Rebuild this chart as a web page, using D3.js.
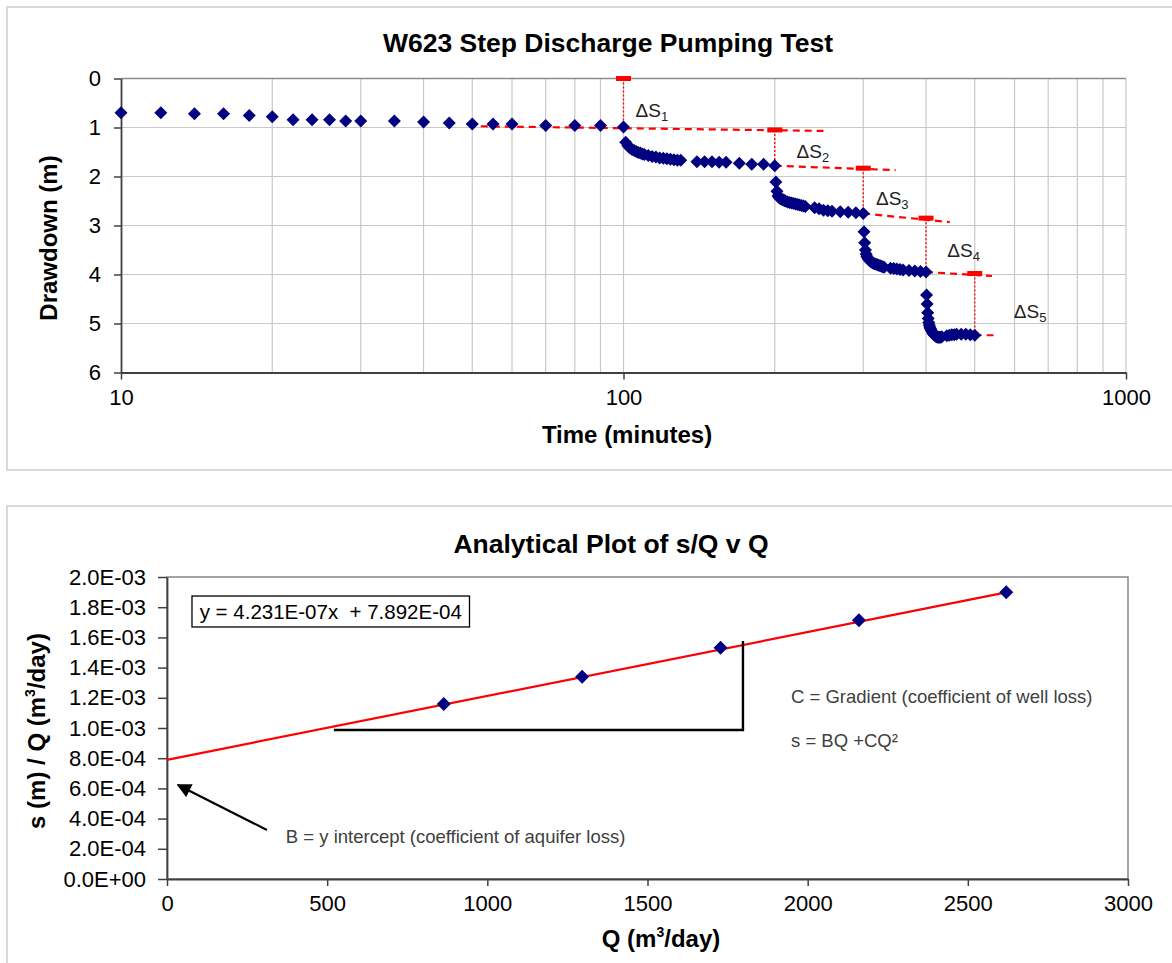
<!DOCTYPE html>
<html><head><meta charset="utf-8">
<script src="https://cdn.jsdelivr.net/npm/d3@7"></script>
<style>
body{margin:0;background:#fff}
text{font-family:"Liberation Sans",Arial,sans-serif}
</style>
</head><body>
<svg id="c" width="1172" height="963"></svg>
<script>
// ---------------- Top chart data (time in minutes, drawdown in m) ----------------
const step1Time = [10,12,14,16,18,20,22,24,26,28,30,35,40,45,50,55,60,70,80,90,100];
const step1Draw = [0.70,0.70,0.72,0.72,0.755,0.78,0.84,0.84,0.84,0.865,0.865,0.865,0.89,0.91,0.93,0.93,0.93,0.96,0.96,0.96,0.99];

const step2Time = [101,102,103,104,105,106,107,108,109,110,112,114,116,118,120,122,124,126,128,130,140,145,150,155,160,170,180,190,200];
const step2Draw = [1.30,1.37,1.42,1.45,1.47,1.49,1.51,1.52,1.54,1.55,1.57,1.59,1.60,1.62,1.63,1.64,1.65,1.66,1.67,1.67,1.70,1.70,1.70,1.71,1.71,1.73,1.75,1.75,1.78];

const step3Time = [201,202,203,204,205,206,207,208,209,210,212,214,216,218,220,222,224,226,228,230,240,245,250,255,260,270,280,290,300];
const step3Draw = [2.11,2.30,2.40,2.43,2.45,2.46,2.47,2.48,2.49,2.50,2.52,2.53,2.54,2.55,2.56,2.57,2.58,2.59,2.60,2.61,2.64,2.66,2.69,2.70,2.71,2.72,2.73,2.74,2.755];

const step4Time = [301,302,303,304,305,306,307,308,309,310,312,314,316,318,320,322,324,326,328,330,340,345,350,355,360,370,380,390,400];
const step4Draw = [3.13,3.35,3.50,3.58,3.63,3.66,3.68,3.70,3.72,3.73,3.75,3.77,3.78,3.79,3.80,3.81,3.82,3.83,3.84,3.85,3.87,3.88,3.89,3.90,3.91,3.92,3.93,3.94,3.95];

const step5Time = [401,402,403,404,405,406,407,408,409,410,412,414,416,418,420,422,424,426,428,430,440,445,450,455,460,470,480,490,500];
const step5Draw = [4.42,4.60,4.78,4.90,4.98,5.03,5.07,5.10,5.13,5.15,5.19,5.22,5.24,5.26,5.27,5.28,5.28,5.28,5.28,5.27,5.25,5.24,5.23,5.23,5.22,5.22,5.22,5.23,5.24];

// Step construction annotations
const markTime = [100,200,300,400,500];
const markDraw = [0,1.05,1.83,2.85,3.98];
const stepEndDraw = [0.99,1.78,2.755,3.95,5.24];
const extT0 = [52,200,300,400,500];
const extS0 = [0.975,1.78,2.755,3.95,5.24];
const extT1 = [250,348,446,541,545];
const extS1 = [1.07,1.87,2.93,4.03,5.24];
const dsLabelT = [105.7,221,318,441,598];
const dsLabelS = [0.78,1.63,2.59,3.64,4.89];
const dsSub = ["1","2","3","4","5"];

const topYTicks = [0,1,2,3,4,5,6];
const topYLabels = ["0","1","2","3","4","5","6"];
const topXTicks = [10,100,1000];
const topXLabels = ["10","100","1000"];
const topGridT = [20,30,40,50,60,70,80,90,100,200,300,400,500,600,700,800,900,1000];

// ---------------- Bottom chart data ----------------
const Qvals = [864,1296,1728,2160,2620];
const sQvals = [1.159e-3,1.340e-3,1.532e-3,1.713e-3,1.899e-3];
const trendSlope = 4.231e-7, trendIntercept = 7.892e-4;
const trendQ = [0,2620];
const botYTicks = [0,0.0002,0.0004,0.0006,0.0008,0.001,0.0012,0.0014,0.0016,0.0018,0.002];
const botYLabels = ["0.0E+00","2.0E-04","4.0E-04","6.0E-04","8.0E-04","1.0E-03","1.2E-03","1.4E-03","1.6E-03","1.8E-03","2.0E-03"];
const botXTicks = [0,500,1000,1500,2000,2500,3000];
const botXLabels = ["0","500","1000","1500","2000","2500","3000"];
const gradLineQ = [521,1798,1798];
const gradLineS = [0.987e-3,0.987e-3,1.576e-3];
const arrowFrom = [312,0.325e-3], arrowTo = [34,0.623e-3];

// ---------------- drawing ----------------
const svg = d3.select("#c");
svg.append("rect").attr("width",1172).attr("height",963).attr("fill","#fff");
svg.append("rect").attr("x",7).attr("y",7).attr("width",1200).attr("height",463)
  .attr("fill","none").attr("stroke","#d9d9d9").attr("stroke-width",2);
svg.append("rect").attr("x",7).attr("y",506).attr("width",1200).attr("height",500)
  .attr("fill","none").attr("stroke","#d9d9d9").attr("stroke-width",2);

const diamond = r => `M0,${-r}L${r},0L0,${r}L${-r},0Z`;

// ===== Top chart =====
const x = d3.scaleLog().domain([10,1000]).range([121,1126]);
const y = d3.scaleLinear().domain([0,6]).range([78.5,372.5]);
const g = svg.append("g");

g.selectAll(".vg").data(topGridT).join("line")
  .attr("x1",d=>x(d)).attr("x2",d=>x(d)).attr("y1",y(0)).attr("y2",y(6))
  .attr("stroke","#c8c8c8").attr("stroke-width",1.2);
g.selectAll(".hg").data([1,2,3,4,5]).join("line")
  .attr("x1",x(10)).attr("x2",x(1000)).attr("y1",d=>y(d)).attr("y2",d=>y(d))
  .attr("stroke","#c8c8c8").attr("stroke-width",1.2);
g.append("line").attr("x1",x(10)).attr("x2",x(1000)).attr("y1",y(0)).attr("y2",y(0))
  .attr("stroke","#8c8c8c").attr("stroke-width",1.5);

const yAx = g.append("g").attr("transform",`translate(${x(10)},0)`)
  .call(d3.axisLeft(y).tickValues(topYTicks).tickFormat((d,i)=>topYLabels[i]).tickSize(7).tickSizeOuter(0).tickPadding(13));
const xAx = g.append("g").attr("transform",`translate(0,${y(6)})`)
  .call(d3.axisBottom(x).tickValues(topXTicks).tickFormat((d,i)=>topXLabels[i]).tickSize(7).tickSizeOuter(0).tickPadding(10));
[yAx,xAx].forEach(a=>{
  a.select(".domain").attr("stroke","#404040").attr("stroke-width",1.8);
  a.selectAll(".tick line").attr("stroke","#404040").attr("stroke-width",1.5);
  a.selectAll(".tick text").attr("font-size",22).attr("fill","#000").attr("font-family","Liberation Sans, Arial, sans-serif");
});

// extrapolation dashed lines
g.selectAll(".ext").data(extT0).join("line")
  .attr("x1",(d,i)=>x(extT0[i])).attr("y1",(d,i)=>y(extS0[i]))
  .attr("x2",(d,i)=>x(extT1[i])).attr("y2",(d,i)=>y(extS1[i]))
  .attr("stroke","#ff0000").attr("stroke-width",2.2).attr("stroke-dasharray","7,5");
// vertical dotted
g.selectAll(".vd").data(markTime).join("line")
  .attr("x1",d=>x(d)).attr("x2",d=>x(d)).attr("y1",(d,i)=>y(markDraw[i])).attr("y2",(d,i)=>y(stepEndDraw[i]))
  .attr("stroke","#ff0000").attr("stroke-width",1.3).attr("stroke-dasharray","2,2");

// data points
const allSteps = [[step1Time,step1Draw],[step2Time,step2Draw],[step3Time,step3Draw],[step4Time,step4Draw],[step5Time,step5Draw]];
const pts = [];
allSteps.forEach(([t,s])=>t.forEach((tt,i)=>pts.push([tt,s[i]])));
g.selectAll(".pt").data(pts).join("path")
  .attr("d",diamond(6.5)).attr("transform",d=>`translate(${x(d[0])},${y(d[1])})`)
  .attr("fill","#000080");

// red dash markers
g.selectAll(".mk").data(markTime).join("rect")
  .attr("x",d=>x(d)-7.5).attr("y",(d,i)=>y(markDraw[i])-2.5).attr("width",15).attr("height",5)
  .attr("fill","#ff0000");

// ΔS labels
dsLabelT.forEach((t,i)=>{
  const tx = g.append("text").attr("x",x(t)).attr("y",y(dsLabelS[i]))
    .attr("font-family","Lato, 'Open Sans', sans-serif").attr("font-size",19).attr("fill","#222");
  tx.append("tspan").text("ΔS");
  tx.append("tspan").attr("font-size",13).attr("dy",4).text(dsSub[i]);
});

// titles
svg.append("text").attr("x",608).attr("y",52).attr("text-anchor","middle")
  .attr("font-weight","bold").attr("font-size",26.5).text("W623 Step Discharge Pumping Test");
svg.append("text").attr("x",627).attr("y",443).attr("text-anchor","middle")
  .attr("font-weight","bold").attr("font-size",24).text("Time (minutes)");
svg.append("text").attr("transform","translate(57,238) rotate(-90)").attr("text-anchor","middle")
  .attr("font-weight","bold").attr("font-size",24).text("Drawdown (m)");

// ===== Bottom chart =====
const x2 = d3.scaleLinear().domain([0,3000]).range([167,1128]);
const y2 = d3.scaleLinear().domain([0,0.002]).range([879,577]);
const g2 = svg.append("g");

g2.append("rect").attr("x",x2(0)).attr("y",y2(0.002)).attr("width",x2(3000)-x2(0)).attr("height",y2(0)-y2(0.002))
  .attr("fill","none").attr("stroke","#868686").attr("stroke-width",1.5);

const yAx2 = g2.append("g").attr("transform",`translate(${x2(0)},0)`)
  .call(d3.axisLeft(y2).tickValues(botYTicks).tickFormat((d,i)=>botYLabels[i]).tickSize(9).tickSizeOuter(0).tickPadding(12));
const xAx2 = g2.append("g").attr("transform",`translate(0,${y2(0)})`)
  .call(d3.axisBottom(x2).tickValues(botXTicks).tickFormat((d,i)=>botXLabels[i]).tickSize(7).tickSizeOuter(0).tickPadding(9));
[yAx2,xAx2].forEach(a=>{
  a.select(".domain").attr("stroke","#404040").attr("stroke-width",1.8);
  a.selectAll(".tick line").attr("stroke","#404040").attr("stroke-width",1.5);
  a.selectAll(".tick text").attr("font-size",22).attr("fill","#000").attr("font-family","Liberation Sans, Arial, sans-serif");
});

// trendline
g2.append("line").attr("x1",x2(trendQ[0])).attr("y1",y2(trendSlope*trendQ[0]+trendIntercept))
  .attr("x2",x2(trendQ[1])).attr("y2",y2(trendSlope*trendQ[1]+trendIntercept))
  .attr("stroke","#ff0000").attr("stroke-width",2.2);

// gradient triangle line
g2.append("path").attr("d",d3.line()(gradLineQ.map((q,i)=>[x2(q),y2(gradLineS[i])])))
  .attr("fill","none").attr("stroke","#000").attr("stroke-width",2.4);

// points
g2.selectAll(".pt2").data(Qvals).join("path")
  .attr("d",diamond(7)).attr("transform",(d,i)=>`translate(${x2(d)},${y2(sQvals[i])})`)
  .attr("fill","#000080");

// arrow
const defs = svg.append("defs");
defs.append("marker").attr("id","ah").attr("viewBox","0 0 10 10").attr("refX",9).attr("refY",5)
  .attr("markerWidth",7).attr("markerHeight",6.5).attr("orient","auto").attr("markerUnits","strokeWidth")
  .append("path").attr("d","M0,0L10,5L0,10Z").attr("fill","#000");
g2.append("line").attr("x1",x2(arrowFrom[0])).attr("y1",y2(arrowFrom[1]))
  .attr("x2",x2(arrowTo[0])).attr("y2",y2(arrowTo[1]))
  .attr("stroke","#000").attr("stroke-width",2.2).attr("marker-end","url(#ah)");

// equation box
const eqBox = g2.append("rect");
const eq = g2.append("text").attr("x",x2(102)).attr("y",y2(1.722e-3)).attr("font-size",20.5).attr("fill","#000")
  .text("y = 4.231E-07x\u00a0 + 7.892E-04");
const bb = eq.node().getBBox();
eqBox.attr("x",x2(78)).attr("y",y2(1.874e-3)).attr("width",bb.width + (x2(102)-x2(78))*2)
  .attr("height",y2(1.669e-3)-y2(1.874e-3)).attr("fill","#fff").attr("stroke","#000").attr("stroke-width",1.3);

// annotations
g2.append("text").attr("x",x2(371)).attr("y",y2(0.236e-3)).attr("font-size",18.5).attr("fill","#404040")
  .text("B = y intercept (coefficient of aquifer loss)");
g2.append("text").attr("x",x2(1948)).attr("y",y2(1.164e-3)).attr("font-size",18.5).attr("fill","#404040")
  .text("C = Gradient (coefficient of well loss)");
g2.append("text").attr("x",x2(1948)).attr("y",y2(0.876e-3)).attr("font-size",18.5).attr("fill","#404040")
  .text("s = BQ +CQ²");

// titles
svg.append("text").attr("x",611).attr("y",553).attr("text-anchor","middle")
  .attr("font-weight","bold").attr("font-size",26.5).text("Analytical Plot of s/Q v Q");
const xl = svg.append("text").attr("x",661).attr("y",947).attr("text-anchor","middle")
  .attr("font-weight","bold").attr("font-size",24);
xl.append("tspan").text("Q (m");
xl.append("tspan").attr("font-size",14).attr("dy",-10).text("3");
xl.append("tspan").attr("dy",10).text("/day)");
const yl = svg.append("text").attr("transform","translate(45,731) rotate(-90)").attr("text-anchor","middle")
  .attr("font-weight","bold").attr("font-size",24);
yl.append("tspan").text("s (m) / Q (m");
yl.append("tspan").attr("font-size",14).attr("dy",-10).text("3");
yl.append("tspan").attr("dy",10).text("/day)");
</script>
</body></html>
